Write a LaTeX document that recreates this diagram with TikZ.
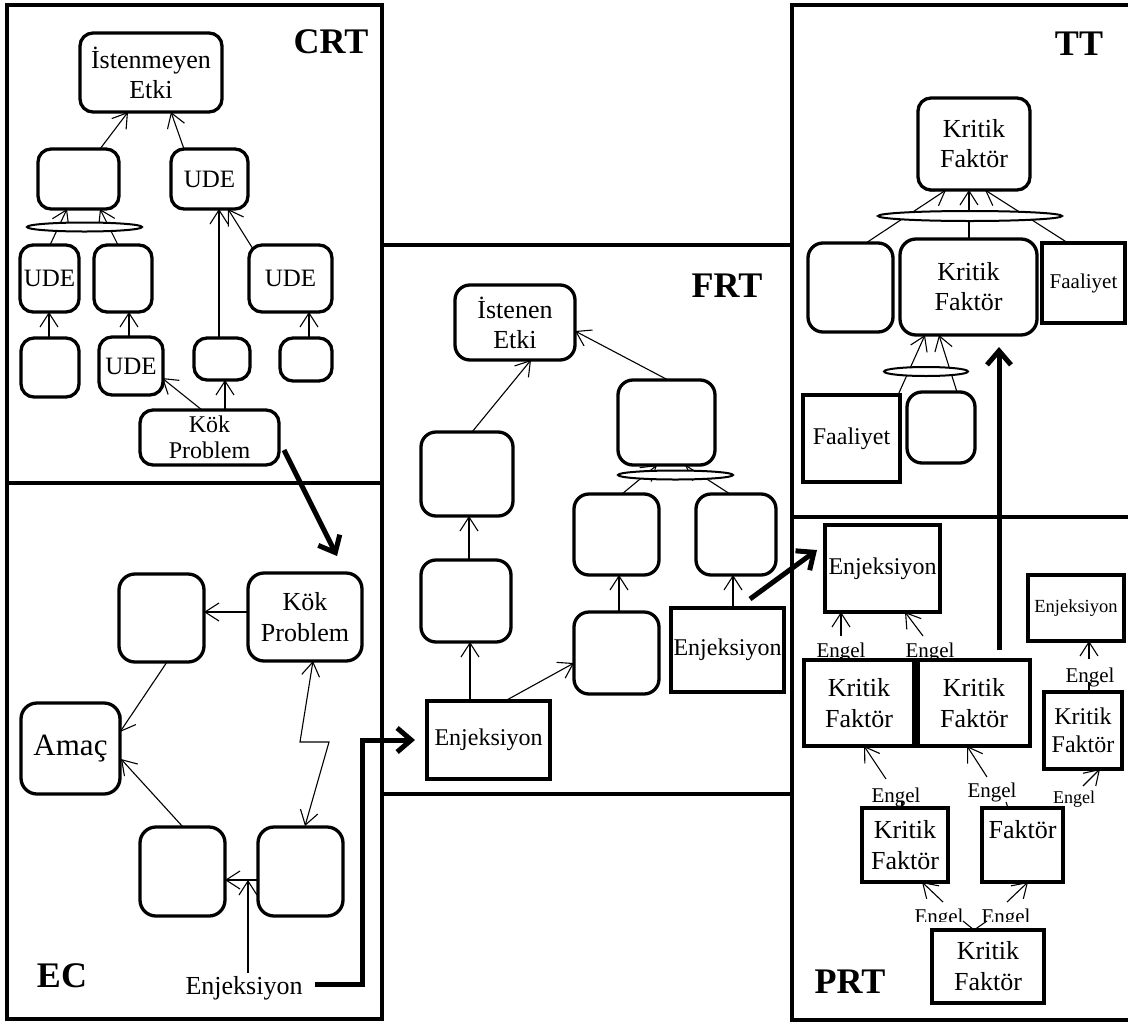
\documentclass[tikz,border=0pt]{standalone}
\usepackage{fontspec}
\setmainfont{Liberation Serif}
\usetikzlibrary{arrows.meta}
\newcommand\fsz[2]{\fontsize{#1}{#2}\selectfont}
% box from corner (x1,y1) to (x2,y2), coordinates in pixels, y downward
\newcommand\mkbox[7]{%
  \expandafter\xdef\csname rx@#2\endcsname{#3}%
  \expandafter\xdef\csname ry@#2\endcsname{#4}%
  \expandafter\xdef\csname ra@#2\endcsname{north west}%
  \pgfmathsetmacro\mkW{#5-#3}\pgfmathsetmacro\mkH{#6-#4}%
  \pgfmathsetmacro\mkX{(#3+#5)/2}\pgfmathsetmacro\mkY{(#4+#6)/2}%
  \node[#1, minimum width=\mkW pt, minimum height=\mkH pt] (#2) at (\mkX,\mkY) {#7};%
}
\newcommand\mklbl[5]{%
  \expandafter\xdef\csname rx@#2\endcsname{#3}%
  \expandafter\xdef\csname ry@#2\endcsname{#4}%
  \expandafter\xdef\csname ra@#2\endcsname{base}%
  \node[#1, anchor=base] (#2) at (#3,#4) {#5};%
}
\newcommand\conn[7][arr]{%
  \pgfmathsetmacro\cdxa{#3-\csname rx@#2\endcsname}%
  \pgfmathsetmacro\cdya{#4-\csname ry@#2\endcsname}%
  \pgfmathsetmacro\cdxb{#6-\csname rx@#5\endcsname}%
  \pgfmathsetmacro\cdyb{#7-\csname ry@#5\endcsname}%
  \edef\cnext{\noexpand\draw[#1] ([shift={(\cdxa,\cdya)}]#2.\csname ra@#2\endcsname) -- ([shift={(\cdxb,\cdyb)}]#5.\csname ra@#5\endcsname);}%
  \cnext}
\tikzset{
  rbox/.style={draw, line width=3.3pt, rounded corners=13pt, inner sep=0pt, outer sep=0pt, align=center, font=\fsz{24}{26}},
  sbox/.style={draw, line width=4pt, inner sep=0pt, outer sep=0pt, align=center, font=\fsz{24}{26}},
  lbl/.style={inner sep=0pt, outer sep=0pt, align=center},
  panel/.style={line width=3.2pt},
  arr/.style={line width=1.1pt, -{Straight Barb[length=14pt, width=18pt]}},
  thinline/.style={line width=1.1pt},
  dblarr/.style={line width=1.1pt, {Straight Barb[length=14pt, width=18pt]}-{Straight Barb[length=14pt, width=18pt]}},
  thickarr/.style={line width=5pt, -{Straight Barb[length=14pt, width=24pt]}},
  andell/.style={draw, line width=2pt, fill=white},
  ptitle/.style={font=\fsz{36}{40}\bfseries, inner sep=0pt, anchor=base},
}
\begin{document}
\begin{tikzpicture}[x=1pt, y=-1pt]
\useasboundingbox (0,0) rectangle (1128,1026);
% panels
\draw[panel] (7,5) rectangle (382,1019);
\draw[panel] (7,483) -- (382,483);
\draw[panel] (382,245) -- (792,245) (382,794) -- (792,794);
\draw[panel] (1128,5) -- (792,5) -- (792,1020) -- (1128,1020);
\draw[panel] (792,517) -- (1128,517);
% titles
\node[ptitle] (tcrt) at (331,53) {CRT};
\node[ptitle] (tfrt) at (727,297) {FRT};
\node[ptitle] (ttt) at (1079,55) {TT};
\node[ptitle] (tec) at (62,987) {EC};
\node[ptitle] (tprt) at (850,993) {PRT};

% ---------- CRT ----------
\mkbox{rbox, font=\fsz{26}{30}}{ie}{80}{33}{222}{112}{İstenmeyen\\Etki}
\mkbox{rbox}{ca}{38}{149}{119}{209}{}
\mkbox{rbox, font=\fsz{25}{28}}{cua}{171}{149}{248}{209}{UDE}
\mkbox{rbox, font=\fsz{25}{28}}{cub}{20}{245}{79}{312}{UDE}
\mkbox{rbox}{cb}{94}{245}{152}{312}{}
\mkbox{rbox, font=\fsz{25}{28}}{cuc}{249}{245}{332}{312}{UDE}
\mkbox{rbox}{cc}{21}{338}{79}{397}{}
\mkbox{rbox, font=\fsz{25}{28}}{cud}{99}{337}{163}{395}{UDE}
\mkbox{rbox}{cd}{194}{338}{250}{380}{}
\mkbox{rbox}{ce}{280}{338}{332}{381}{}
\mkbox{rbox, font=\fsz{24}{26}}{kp}{140}{410}{279}{465}{Kök\\Problem}
\conn{ca}{100}{149}{ie}{128}{112}
\conn{cua}{184}{149}{ie}{171}{112}
\conn{cub}{50}{245}{ca}{67}{209}
\conn{cb}{118}{245}{ca}{100}{209}
\conn{cd}{219}{338}{cua}{219}{209}
\conn{cuc}{253}{249}{cua}{228}{209}
\conn{cc}{49}{338}{cub}{49}{312}
\conn{cud}{129}{337}{cb}{129}{312}
\conn{ce}{309}{338}{cuc}{309}{312}
\conn{kp}{225}{410}{cd}{225}{380}
\conn{kp}{202}{410}{cud}{162}{378}
\draw[andell] (84.5,227) ellipse [x radius=57.5pt, y radius=4.5pt];

% ---------- EC ----------
\mkbox{rbox, rounded corners=16pt}{ec1}{119}{574}{204}{662}{}
\mkbox{rbox, rounded corners=16pt, font=\fsz{26}{31}}{ekp}{248}{573}{362}{661}{Kök\\Problem}
\mkbox{rbox, rounded corners=16pt, font=\fsz{31}{34}}{amac}{21}{703}{120}{794}{Amaç}
\mkbox{rbox, rounded corners=16pt}{ec2}{140}{827}{225}{916}{}
\mkbox{rbox, rounded corners=16pt}{ec3}{258}{827}{343}{916}{}
\mklbl{lbl, font=\fsz{26}{30}}{ecinj}{244}{994}{Enjeksiyon}
\conn{ekp}{248}{612}{ec1}{204}{612}
\conn{ec1}{167}{662}{amac}{120}{732}
\conn{ec2}{183}{827}{amac}{121}{759}
\conn{ec3}{258}{880}{ec2}{225}{880}
\draw[dblarr] ([shift={(65,88)}]ekp.north west) -- (300,742) -- (329,742) -- ([shift={(47,-1)}]ec3.north west);
\coordinate (ecm) at (248,880);
\draw[arr] ([shift={(4,-21)}]ecinj.base) -- (ecm);

% ---------- FRT ----------
\mkbox{rbox, rounded corners=15pt, font=\fsz{26}{30}}{ise}{455}{285}{575}{360}{İstenen\\Etki}
\mkbox{rbox, rounded corners=15pt}{fa}{421}{432}{513}{516}{}
\mkbox{rbox, rounded corners=15pt}{fb}{421}{560}{511}{642}{}
\mkbox{sbox}{finj}{427}{701}{550}{779}{Enjeksiyon}
\mkbox{rbox, rounded corners=15pt}{fc}{618}{380}{715}{465}{}
\mkbox{rbox, rounded corners=15pt}{fd}{574}{494}{659}{575}{}
\mkbox{rbox, rounded corners=15pt}{fe}{696}{494}{776}{575}{}
\mkbox{rbox, rounded corners=15pt}{ff}{574}{612}{659}{694}{}
\mkbox{sbox}{finjb}{671}{608}{784}{692}{Enjeksiyon}
\conn{fa}{472}{432}{ise}{531}{360}
\conn{fc}{668}{380}{ise}{575}{331}
\conn{fb}{469}{560}{fa}{469}{516}
\conn{finj}{470}{701}{fb}{470}{642}
\conn{finj}{505}{701}{ff}{574}{663}
\conn{ff}{619}{612}{fd}{619}{575}
\conn{finjb}{733}{608}{fe}{733}{575}
\conn{fd}{622}{494}{fc}{657}{465}
\conn{fe}{730}{494}{fc}{685}{465}
\draw[andell] (675.5,475) ellipse [x radius=57.5pt, y radius=4.5pt];

% ---------- TT ----------
\mkbox{rbox, font=\fsz{26}{30}}{tkfa}{918}{98}{1030}{190}{Kritik\\Faktör}
\mkbox{rbox, rounded corners=15pt}{tta}{808}{243}{893}{332}{}
\mkbox{rbox, rounded corners=16pt, font=\fsz{26}{30}}{tkfb}{900}{239}{1037}{335}{Kritik\\Faktör}
\mkbox{sbox, font=\fsz{21}{24}}{tfaa}{1042}{243}{1125}{323}{Faaliyet}
\mkbox{sbox}{tfab}{803}{395}{900}{482}{Faaliyet}
\mkbox{rbox, rounded corners=15pt}{ttb}{907}{392}{975}{463}{}
\conn{tta}{866}{243}{tkfa}{946}{190}
\conn{tkfb}{969}{239}{tkfa}{969}{190}
\conn{tfaa}{1068}{243}{tkfa}{985}{190}
\conn{tfab}{898}{395}{tkfb}{925}{335}
\conn{ttb}{957}{392}{tkfb}{939}{335}
\draw[andell] (970,216) ellipse [x radius=92pt, y radius=5pt];
\draw[andell] (926,371.5) ellipse [x radius=42pt, y radius=4.5pt];

% ---------- PRT ----------
\mkbox{sbox}{penj}{825}{525}{940}{612}{Enjeksiyon}
\mkbox{sbox, font=\fsz{18.5}{22}}{penjb}{1028}{575}{1124}{641}{Enjeksiyon}
\mkbox{sbox, font=\fsz{26}{31}}{pkfa}{804}{660}{914}{746}{Kritik\\Faktör}
\mkbox{sbox, font=\fsz{26}{31}}{pkfb}{918}{660}{1030}{746}{Kritik\\Faktör}
\mkbox{sbox, font=\fsz{24}{28}}{pkfc}{1044}{692}{1122}{769}{Kritik\\Faktör}
\mkbox{sbox, font=\fsz{26}{31}}{pkfd}{862}{808}{948}{882}{Kritik\\Faktör}
\mkbox{sbox, font=\fsz{26}{31}}{pf}{982}{808}{1063}{882}{Faktör\\\mbox{}}
\mkbox{sbox, font=\fsz{26}{31}}{pkfe}{932}{930}{1044}{1003}{Kritik\\Faktör}
\mklbl{lbl, font=\fsz{21}{24}}{ea}{841}{657}{Engel}
\mklbl{lbl, font=\fsz{21}{24}}{eb}{930}{657}{Engel}
\mklbl{lbl, font=\fsz{21}{24}}{ec}{1090}{682}{Engel}
\mklbl{lbl, font=\fsz{21}{24}}{ed}{896}{802}{Engel}
\mklbl{lbl, font=\fsz{21}{24}}{ee}{992}{797}{Engel}
\mklbl{lbl, font=\fsz{18}{21}}{eff}{1074}{803}{Engel}
\begin{scope}
\clip (900,880) rectangle (1050,921);
\mklbl{lbl, font=\fsz{21}{24}}{eg}{939}{923}{Engel}
\mklbl{lbl, font=\fsz{21}{24}}{eh}{1006}{923}{Engel}
\end{scope}
\conn{ea}{841}{636}{penj}{841}{612}
\conn{eb}{923}{636}{penj}{905}{612}
\conn{ec}{1089}{659}{penjb}{1089}{641}
\conn{ed}{886}{779}{pkfa}{864}{746}
\conn{ee}{987}{777}{pkfb}{967}{746}
\conn{eff}{1083}{786}{pkfc}{1100}{769}
\conn{eg}{943}{902}{pkfd}{922}{882}
\conn{eh}{1007}{902}{pf}{1028}{882}
\conn[thinline]{ea}{841}{657}{pkfa}{841}{660}
\conn[thinline]{ec}{1089}{682}{pkfc}{1089}{692}
\conn[thinline]{ed}{902}{802}{pkfd}{902}{808}
\conn[thinline]{ee}{1006}{802}{pf}{1008}{808}
\conn[thinline]{pkfe}{963}{921}{pkfe}{974}{930}
\conn[thinline]{pkfe}{987}{921}{pkfe}{974}{930}

% ---------- thick arrows ----------
\conn[thickarr]{kp}{284}{450}{ekp}{337}{556}
\draw[thickarr] ([shift={(71,-10)}]ecinj.base) -| ([xshift=-65pt]finj.west) -- ([xshift=-12pt]finj.west);
\conn[thickarr]{finjb}{750}{599}{penj}{817}{550}
\conn[thickarr]{pkfb}{999}{650}{tkfb}{999}{347}
\end{tikzpicture}
\end{document}
